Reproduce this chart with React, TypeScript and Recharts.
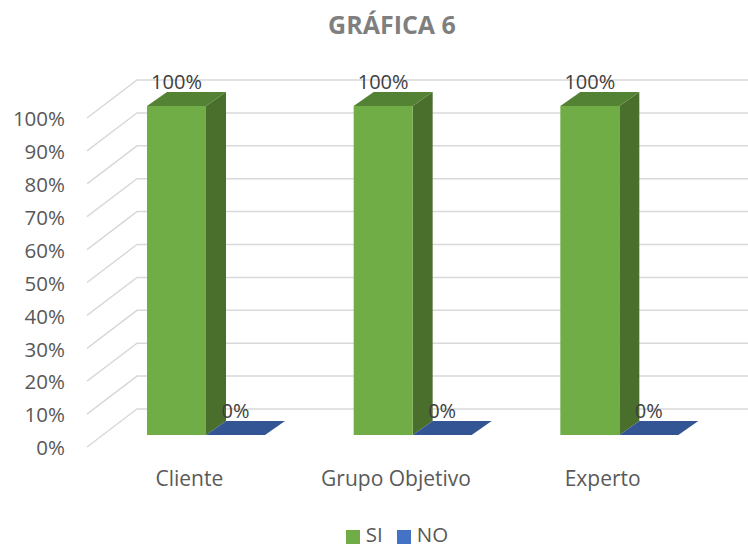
import React from 'react';
import { BarChart, Bar, XAxis, YAxis, CartesianGrid, Legend, LabelList } from 'recharts';

const categories = ['Cliente', 'Grupo Objetivo', 'Experto'];
const siValues = [100, 100, 100];
const noValues = [0, 0, 0];
const yTicks = [0, 10, 20, 30, 40, 50, 60, 70, 80, 90, 100];

const data = categories.map((name, i) => ({ name, SI: siValues[i], NO: noValues[i] }));

const FONT = '"Open Sans", sans-serif';
const DEPTH_X = 20;
const DEPTH_Y = 14;

// 3D box: front face, top face, right side
const Box = (props: any) => {
  const { x, y, width, height, fill, topFill, sideFill } = props;
  return (
    <g>
      <polygon
        points={`${x + width},${y} ${x + width + DEPTH_X},${y - DEPTH_Y} ${x + width + DEPTH_X},${y + height - DEPTH_Y} ${x + width},${y + height}`}
        fill={sideFill}
      />
      <polygon
        points={`${x},${y} ${x + DEPTH_X},${y - DEPTH_Y} ${x + width + DEPTH_X},${y - DEPTH_Y} ${x + width},${y}`}
        fill={topFill}
      />
      <rect x={x} y={y} width={width} height={height} fill={fill} />
    </g>
  );
};

// wall line: diagonal on the left side, then horizontal on the back wall
const WallLine = (props: any) => {
  const y = props.y1;
  return (
    <polyline
      key={props.key}
      points={`87,${y + 12} 137,${y - 26} 748,${y - 26}`}
      fill="none"
      stroke="#D9D9D9"
      strokeWidth={1.5}
    />
  );
};

export default function App() {
  return (
    <div style={{ position: 'absolute', left: 0, top: 0, width: 748, height: 546, background: '#fff', overflow: 'hidden' }}>
      <div
        style={{
          position: 'absolute',
          top: 7,
          left: 0,
          width: 748,
          paddingLeft: 36,
          boxSizing: 'border-box',
          textAlign: 'center',
          fontFamily: FONT,
          fontWeight: 700,
          fontSize: 25,
          color: '#7F7F7F',
        }}
      >
        GRÁFICA 6
      </div>
      <BarChart
        width={748}
        height={546}
        data={data}
        barGap={0}
        margin={{ top: 106, right: 25, bottom: 0, left: 0 }}
        style={{ fontFamily: FONT }}
      >
        <CartesianGrid vertical={false} horizontal={WallLine} />
        <XAxis
          dataKey="name"
          height={88}
          axisLine={false}
          tickLine={false}
          tickMargin={30}
          tick={{ fill: '#595959', fontSize: 21, dx: -17 }}
          interval={0}
        />
        <YAxis
          width={103}
          domain={[0, 100]}
          ticks={yTicks}
          axisLine={false}
          tickLine={false}
          tickSize={0}
          tickMargin={38}
          tickFormatter={(v: number) => `${v}%`}
          tick={{ fill: '#595959', fontSize: 20.5, dy: 13 }}
        />
        <Legend
          height={23}
          iconType="square"
          iconSize={14}
          itemSorter={(item: any) => (item.value === 'SI' ? 0 : 1)}
          wrapperStyle={{
            fontSize: 20.5,
            left: 0,
            width: 748,
            top: 523,
            bottom: 'auto',
            height: 23,
            lineHeight: '23px',
            paddingLeft: 60,
            boxSizing: 'border-box',
          }}
          formatter={(value: string) => (
            <span style={{ display: 'inline-block', lineHeight: '20px', color: '#595959', marginLeft: 2, marginRight: 4 }}>{value}</span>
          )}
        />
        <Bar
          dataKey="SI"
          fill="#70AD47"
          barSize={59}
          isAnimationActive={false}
          shape={(p: any) => <Box {...p} topFill="#548235" sideFill="#4A6F2C" />}
        >
          <LabelList dataKey="SI" position="top" offset={17} fill="#404040" fontSize={20} formatter={(v: number) => `${v}%`} />
        </Bar>
        <Bar
          dataKey="NO"
          fill="#4472C4"
          barSize={59}
          isAnimationActive={false}
          shape={(p: any) => <Box {...p} fill="#335593" topFill="#335593" sideFill="#335593" />}
        >
          <LabelList dataKey="NO" position="top" offset={17} fill="#404040" fontSize={20} formatter={(v: number) => `${v}%`} />
        </Bar>
      </BarChart>
    </div>
  );
}
